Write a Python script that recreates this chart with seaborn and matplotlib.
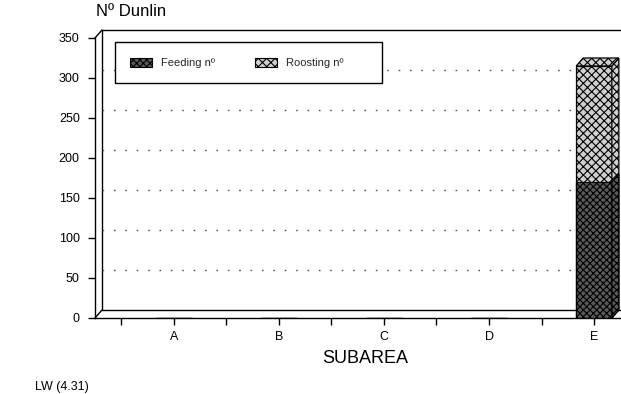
import matplotlib
matplotlib.use("Agg")
import matplotlib.pyplot as plt
from matplotlib.patches import Polygon, Patch, Rectangle
import pandas as pd
import seaborn as sns

# Dunlin counts per subarea
subareas = ["A", "B", "C", "D", "E"]
feeding = [0, 0, 0, 0, 170]
roosting = [0, 0, 0, 0, 145]
yticks = [0, 50, 100, 150, 200, 250, 300, 350]
series_labels = ["Feeding nº", "Roosting nº"]

sns.set_theme(style="white")
plt.rcParams["font.family"] = ["Liberation Sans", "DejaVu Sans"]
plt.rcParams["hatch.linewidth"] = 0.8

W, H = 621, 394
fig = plt.figure(figsize=(W / 100, H / 100), dpi=100)
ax = fig.add_axes([95 / W, 76 / H, 526 / W, 280 / H])

XMIN, XMAX = -0.752, 4.257
YMAX = 350

# depth offset of the pseudo-3D box, in pixels
DPX, DPY = 7, 8
ddx = DPX * (XMAX - XMIN) / 526
ddy = DPY * YMAX / 280

feed_style = dict(facecolor="#5a5a5a", edgecolor="black", hatch="xxxxx")
roost_style = dict(facecolor="#cfcfcf", edgecolor="black", hatch="xxxx")

df = pd.DataFrame({"subarea": subareas, "feeding": feeding, "roosting": roosting})
df["total"] = df["feeding"] + df["roosting"]

# stacked bars: total (roosting on top) then feeding in front
sns.barplot(data=df, x="subarea", y="total", width=0.34, saturation=1,
            linewidth=0.9, ax=ax, zorder=3, **roost_style)
n_total = len(ax.patches)
sns.barplot(data=df, x="subarea", y="feeding", width=0.34, saturation=1,
            linewidth=0.9, ax=ax, zorder=4, **feed_style)

ax.set_xlim(XMIN, XMAX)
ax.set_ylim(0, YMAX)

# back wall, floor and dotted grid
kw = dict(color="black", lw=1.0, clip_on=False, zorder=1)
ax.plot([XMIN + ddx, XMIN + ddx], [ddy, YMAX + ddy], **kw)
ax.plot([XMIN, XMIN + ddx], [0, ddy], **kw)
ax.plot([XMIN, XMIN + ddx], [YMAX, YMAX + ddy], **kw)
ax.plot([XMIN + ddx, XMAX + 1], [ddy, ddy], **kw)
ax.plot([XMIN + ddx, XMAX + 1], [YMAX + ddy, YMAX + ddy], **kw)
for v in yticks[1:-1]:
    ax.plot([XMIN + ddx, XMAX + 1], [v + ddy, v + ddy], color="#555555",
            lw=1.0, linestyle=(0, (1.2, 7)), clip_on=False, zorder=1)

# side and top faces of the bars
for i, p in enumerate(ax.patches):
    h = p.get_height()
    if h <= 0:
        continue
    style = roost_style if i < n_total else feed_style
    z = 3 if i < n_total else 4
    xl, xr = p.get_x(), p.get_x() + p.get_width()
    side = Polygon([(xr, 0), (xr + ddx, ddy), (xr + ddx, h + ddy), (xr, h)],
                   closed=True, lw=0.9, zorder=z, clip_on=False, **style)
    ax.add_patch(side)
    if i < n_total:
        top = Polygon([(xl, h), (xl + ddx, h + ddy), (xr + ddx, h + ddy), (xr, h)],
                      closed=True, lw=0.9, zorder=z, clip_on=False, **style)
        ax.add_patch(top)

# axes styling
for s in ["top", "right"]:
    ax.spines[s].set_visible(False)
for s in ["left", "bottom"]:
    ax.spines[s].set_color("black")
    ax.spines[s].set_linewidth(1.0)
    ax.spines[s].set_zorder(2)

ax.set_yticks(yticks)
ax.set_yticklabels([str(v) for v in yticks], fontsize=9)
ax.set_xticks(range(len(subareas)))
ax.set_xticklabels(subareas, fontsize=9)
ax.set_xticks([k - 0.5 for k in range(len(subareas))], minor=True)
ax.tick_params(axis="both", which="both", direction="out", length=5,
               width=1.0, color="black", labelcolor="black")
ax.tick_params(axis="x", which="major", pad=4, bottom=True)
ax.tick_params(axis="x", which="minor", bottom=True)
ax.tick_params(axis="y", pad=6, left=True)

ax.set_xlabel("SUBAREA", fontsize=13, color="black")
ax.xaxis.set_label_coords((365 - 95) / 526, (318 - 350) / 280)
ax.set_ylabel("")

fig.text(96 / W, 1 - 4 / H, "Nº Dunlin", fontsize=12, va="top", ha="left",
         color="black")
fig.text(35 / W, 1 - 381 / H, "LW (4.31)", fontsize=9, va="top", ha="left",
         color="black")

# legend inside a plain white box
fig.patches.append(Rectangle((115 / W, 1 - 83 / H), 267 / W, 41 / H,
                             transform=fig.transFigure, facecolor="white",
                             edgecolor="black", lw=1.0, zorder=5))
handles = [Patch(lw=0.8, **feed_style), Patch(lw=0.8, **roost_style)]
leg = fig.legend(handles, series_labels, ncol=2, loc="center left",
                 bbox_to_anchor=(120 / W, 1 - 63 / H), frameon=False,
                 fontsize=8, handlelength=2.0, handleheight=0.9,
                 handletextpad=0.8, columnspacing=3.6)
leg.set_zorder(6)

fig.savefig("out.png", dpi=100, facecolor="white")
